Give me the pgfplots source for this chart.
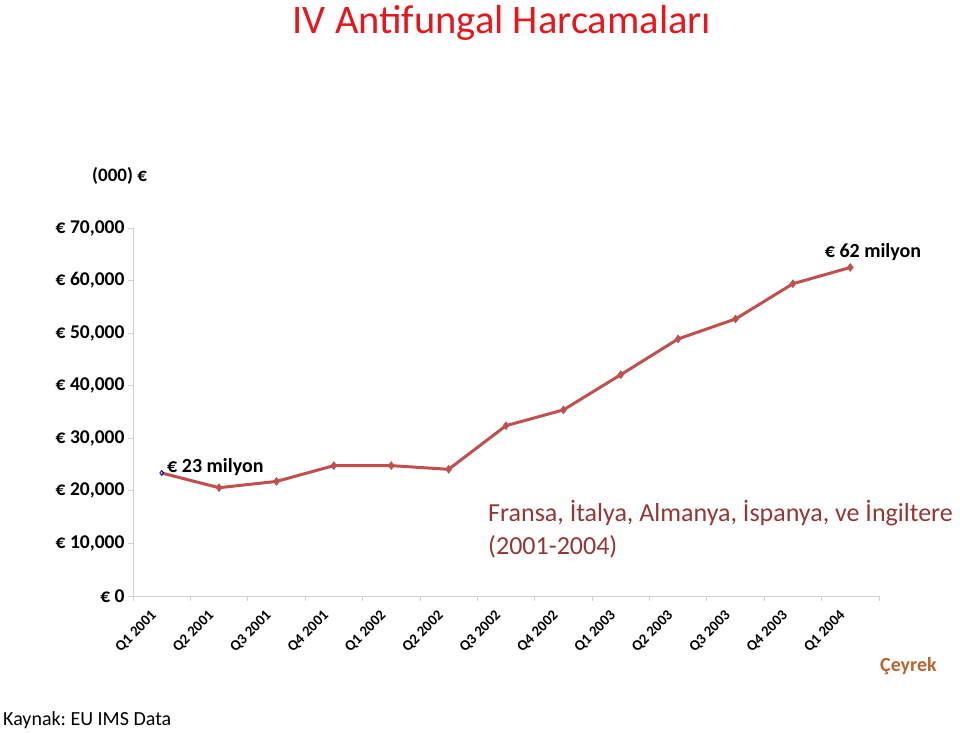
\documentclass[border=0pt]{standalone}
\usepackage{fontspec}
\setmainfont{Carlito}
\usepackage{pgfplots}
\pgfplotsset{compat=1.18}
\definecolor{linered}{HTML}{C0504D}
\definecolor{titlered}{HTML}{E3171E}
\definecolor{darkred}{HTML}{943634}
\definecolor{orangebrown}{HTML}{B9652F}
\definecolor{axisgray}{HTML}{D0D0D0}
\frenchspacing
\begin{document}
\begin{tikzpicture}
\path[use as bounding box] (0pt,0pt) rectangle (960pt,-732pt);
\begin{axis}[
  at={(133pt,-596pt)}, anchor=south west,
  scale only axis, width=746pt, height=368pt,
  xmin=-0.5, xmax=12.5, ymin=0, ymax=70000,
  clip=false,
  scaled y ticks=false,
  axis lines*=left,
  axis line style={draw=axisgray, line width=0.8pt},
  tick align=outside,
  major tick length=5pt, minor tick length=5pt,
  xtick={0,...,12},
  xticklabels={Q1 2001,Q2 2001,Q3 2001,Q4 2001,Q1 2002,Q2 2002,Q3 2002,Q4 2002,Q1 2003,Q2 2003,Q3 2003,Q4 2003,Q1 2004},
  minor xtick={-0.5,0.5,...,12.5},
  major x tick style={draw=none},
  minor x tick style={draw=axisgray, line width=0.8pt},
  y tick style={draw=axisgray, line width=0.8pt},
  xticklabel style={xshift=-5pt, yshift=-10pt, rotate=45, anchor=east, font=\fontsize{14.8}{16}\selectfont\bfseries},
  ytick={0,10000,20000,30000,40000,50000,60000,70000},
  yticklabels={{€ 0},{€ 10,000},{€ 20,000},{€ 30,000},{€ 40,000},{€ 50,000},{€ 60,000},{€ 70,000}},
  yticklabel style={font=\fontsize{19.5}{21}\selectfont\bfseries, anchor=east},
]
\addplot[color=linered, line width=3pt, mark=diamond*, mark indices={2,...,13}, mark size=4pt, mark options={fill=linered, draw=linered, line width=0.5pt}]
coordinates {(0,23400) (1,20600) (2,21800) (3,24800) (4,24800) (5,24100) (6,32400) (7,35400) (8,42100) (9,48900) (10,52700) (11,59400) (12,62500)};
\addplot[only marks, mark=diamond, mark size=2.5pt, mark options={draw=blue!75!black, fill=white, line width=0.8pt}]
coordinates {(0,23400)};
\node[anchor=base west, font=\fontsize{20}{22}\selectfont\bfseries, xshift=2pt] at (axis cs:0,23400) {€ 23 milyon};
\node[anchor=base west, font=\fontsize{20}{22}\selectfont\bfseries, xshift=-29pt, yshift=10pt] at (axis cs:12,62500) {€ 62 milyon};
\end{axis}
\node[anchor=base, font=\fontsize{40.5}{44}\selectfont, text=titlered] at (502pt,-33pt) {IV Antifungal Harcamaları};
\node[anchor=base west, font=\fontsize{19}{21}\selectfont\bfseries, inner sep=0pt] at (92pt,-181pt) {(000) €};
\node[anchor=base west, font=\fontsize{26}{33}\selectfont, text=darkred, inner sep=0pt] at (488pt,-521pt) {Fransa, İtalya, Almanya, İspanya, ve İngiltere};
\node[anchor=base west, font=\fontsize{26}{33}\selectfont, text=darkred, inner sep=0pt] at (488pt,-554pt) {(2001-2004)};
\node[anchor=base west, font=\fontsize{20}{22}\selectfont\bfseries, text=orangebrown, inner sep=0pt] at (880pt,-671pt) {Çeyrek};
\node[anchor=base west, font=\fontsize{20}{22}\selectfont, inner sep=0pt] at (3pt,-725pt) {Kaynak: EU IMS Data};
\end{tikzpicture}
\end{document}
